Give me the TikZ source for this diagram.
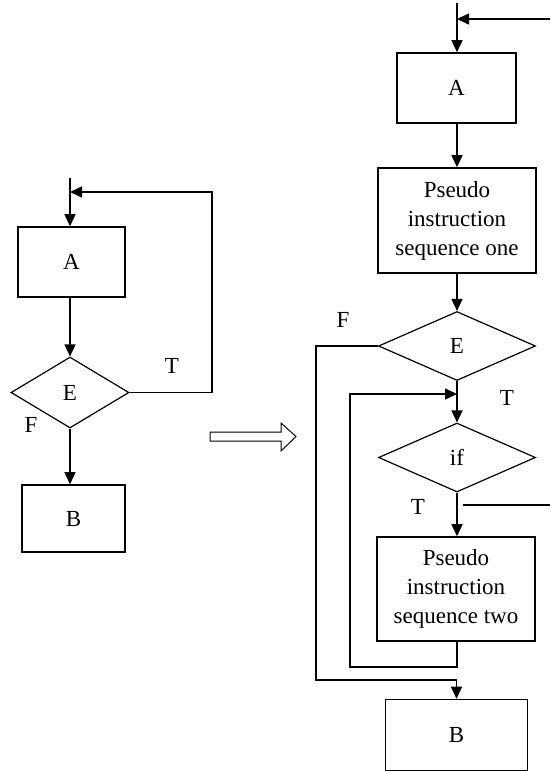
\documentclass[tikz,border=0pt]{standalone}
\usepackage{fontspec}
\setmainfont{Liberation Serif}
\usetikzlibrary{arrows.meta,shapes.geometric}

\begin{document}
\begin{tikzpicture}[x=1pt,y=-1pt,line width=1.6pt,
        every node/.style={font=\fontsize{23}{29}\selectfont},
        box/.style={draw,rectangle,align=center,inner sep=0pt},
        cond/.style={draw,diamond,inner sep=0pt,line width=1.2pt},
        flow/.style={-{Triangle[length=12pt,width=11pt]}}]
        \useasboundingbox (0,0) rectangle (550,771);

        % left chart
        \coordinate (lstart) at (70,178);
        \coordinate (ljoin) at (70,192);
        \coordinate (lturn) at (212,192);

        \node[box,minimum width=107pt,minimum height=70pt] (lA) at (71.5,262) {A};
        \node[cond,minimum width=118pt,minimum height=71pt] (lE) at (70,392.5) {E};
        \node[box,minimum width=103pt,minimum height=67pt] (lB) at (73.5,518.5) {B};

        \draw[flow] (lstart) -- (lstart |- lA.north);
        \draw[flow] (lstart |- lA.south) -- (lE.north);
        \draw[flow] (lE.south) -- (lE.south |- lB.north);
        \draw[flow] (lE.east) -| (lturn) -- (ljoin);

        \node (lT) at (172,366) {T};
        \node (lF) at (31,425) {F};

        % hollow arrow
        \draw[line width=1pt] (210,432) -- (281,432) -- (281,423) -- (296,436.5)
            -- (281,451) -- (281,441) -- (210,441) -- cycle;

        % right chart
        \coordinate (rstart) at (457,3);
        \coordinate (rjoin) at (457,19);
        \coordinate (rin) at (550,19);
        \coordinate (router) at (316,680);
        \coordinate (rinner) at (350,667);
        \coordinate (rmerge) at (457,394);
        \coordinate (rexit) at (463,505);
        \coordinate (rexitend) at (550,505);

        \node[box,minimum width=119pt,minimum height=70pt] (rA) at (456.5,88) {A};
        \node[box,minimum width=158pt,minimum height=105pt] (rOne) at (457,220.5)
            {Pseudo\\instruction\\sequence one};
        \node[cond,minimum width=157pt,minimum height=69pt] (rE) at (457,346) {E};
        \node[cond,minimum width=157pt,minimum height=69pt] (rIf) at (457,457.5) {if};
        \node[box,minimum width=158pt,minimum height=104pt] (rTwo) at (456,589)
            {Pseudo\\instruction\\sequence two};
        \node[box,minimum width=142pt,minimum height=71pt] (rB) at (456.5,735) {B};

        \draw[flow] (rstart) -- (rstart |- rA.north);
        \draw[flow] (rin) -- (rjoin);
        \draw[flow] (rstart |- rA.south) -- (rstart |- rOne.north);
        \draw[flow] (rOne.south) -- (rE.north);
        \draw[flow] (rE.south) -- (rIf.north);
        \draw[flow] (rIf.south) -- (rIf.south |- rTwo.north);
        \draw[flow] (rE.west) -| (router) -| (rB.north);
        \draw[flow] (rIf.south |- rTwo.south) |- (rinner) |- (rmerge);
        \draw (rexit) -- (rexitend);

        \node (rF) at (343,320) {F};
        \node (rT) at (507,398) {T};
        \node (rT2) at (418,507) {T};
\end{tikzpicture}
\end{document}
